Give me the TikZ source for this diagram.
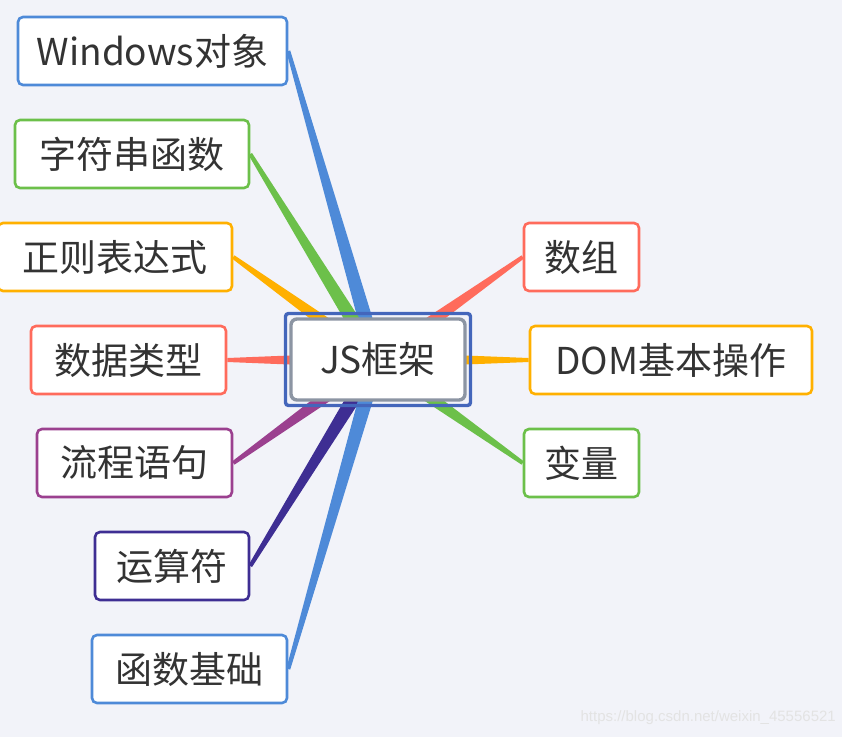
\documentclass[tikz,border=0pt]{standalone}
\usepackage{fontspec}
\setmainfont{Noto Sans CJK SC}
\newfontfamily\wmfont{Liberation Sans}
\usetikzlibrary{calc}
\definecolor{bgc}{HTML}{F2F3F9}
\definecolor{cblue}{HTML}{4E8AD8}
\definecolor{cgreen}{HTML}{6CC04A}
\definecolor{corange}{HTML}{FFB000}
\definecolor{cred}{HTML}{FF6B5C}
\definecolor{cpurple}{HTML}{9B408F}
\definecolor{cdpurple}{HTML}{3E2E93}
\definecolor{cnavy}{HTML}{4466BB}
\definecolor{cgray}{HTML}{8C95A3}
\definecolor{ctext}{HTML}{333333}
\tikzset{
  topic/.style={draw=#1, line width=2.6pt, fill=white, rounded corners=5pt,
    minimum height=68pt, inner sep=0pt, text=ctext, font=\fontsize{37}{40}\selectfont},
}
\newcommand{\wedgeto}[3]{%
  \fill[#1] ($(#2)!8pt!90:(#3)$) -- ($(#3)!2pt!-90:(#2)$) -- ($(#3)!2pt!90:(#2)$) -- ($(#2)!8pt!-90:(#3)$) -- cycle;}
\begin{document}
\begin{tikzpicture}[x=1pt,y=-1pt]
\fill[bgc] (0,0) rectangle (842,737);
\useasboundingbox (0,0) rectangle (842,737);
% topics
\node[topic=cblue, minimum width=269pt] (win) at (152.5,51) {Windows对象};
\node[topic=cgreen, minimum width=234pt] (str) at (132,154) {字符串函数};
\node[topic=corange, minimum width=234pt] (reg) at (115,257) {正则表达式};
\node[topic=cred, minimum width=195pt] (typ) at (128.5,360) {数据类型};
\node[topic=cpurple, minimum width=195pt] (flow) at (134.5,463) {流程语句};
\node[topic=cdpurple, minimum width=154pt] (op) at (172,566) {运算符};
\node[topic=cblue, minimum width=195pt] (fn) at (189.5,669) {函数基础};
\node[topic=cred, minimum width=115pt] (arr) at (581.5,257) {数组};
\node[topic=corange, minimum width=282pt] (dom) at (671,360) {DOM基本操作};
\node[topic=cgreen, minimum width=115pt] (var) at (581.5,463) {变量};
\coordinate (c) at (377,360);
% connectors
\wedgeto{cblue}{c}{win.east}
\wedgeto{cgreen}{c}{str.east}
\wedgeto{corange}{c}{reg.east}
\wedgeto{cred}{c}{typ.east}
\wedgeto{cpurple}{c}{flow.east}
\wedgeto{cdpurple}{c}{op.east}
\wedgeto{cblue}{c}{fn.east}
\wedgeto{cred}{c}{arr.west}
\wedgeto{corange}{c}{dom.west}
\wedgeto{cgreen}{c}{var.west}
% central node
\node[draw=cnavy, line width=3.4pt, rounded corners=3pt, minimum width=185pt, minimum height=92pt, inner sep=0pt] (outer) at (378,359.5) {};
\node[draw=cgray, line width=3.4pt, fill=white, rounded corners=6pt, minimum width=174pt, minimum height=81pt, inner sep=0pt, text=ctext, font=\fontsize{37}{40}\selectfont] (center) at (378,359.5) {JS框架};
% watermark
\node[anchor=east, text=gray!22, font=\wmfont\fontsize{15}{17}\selectfont, inner sep=0pt] (wm) at (836,718) {https://blog.csdn.net/weixin\_45556521};
\end{tikzpicture}
\end{document}
